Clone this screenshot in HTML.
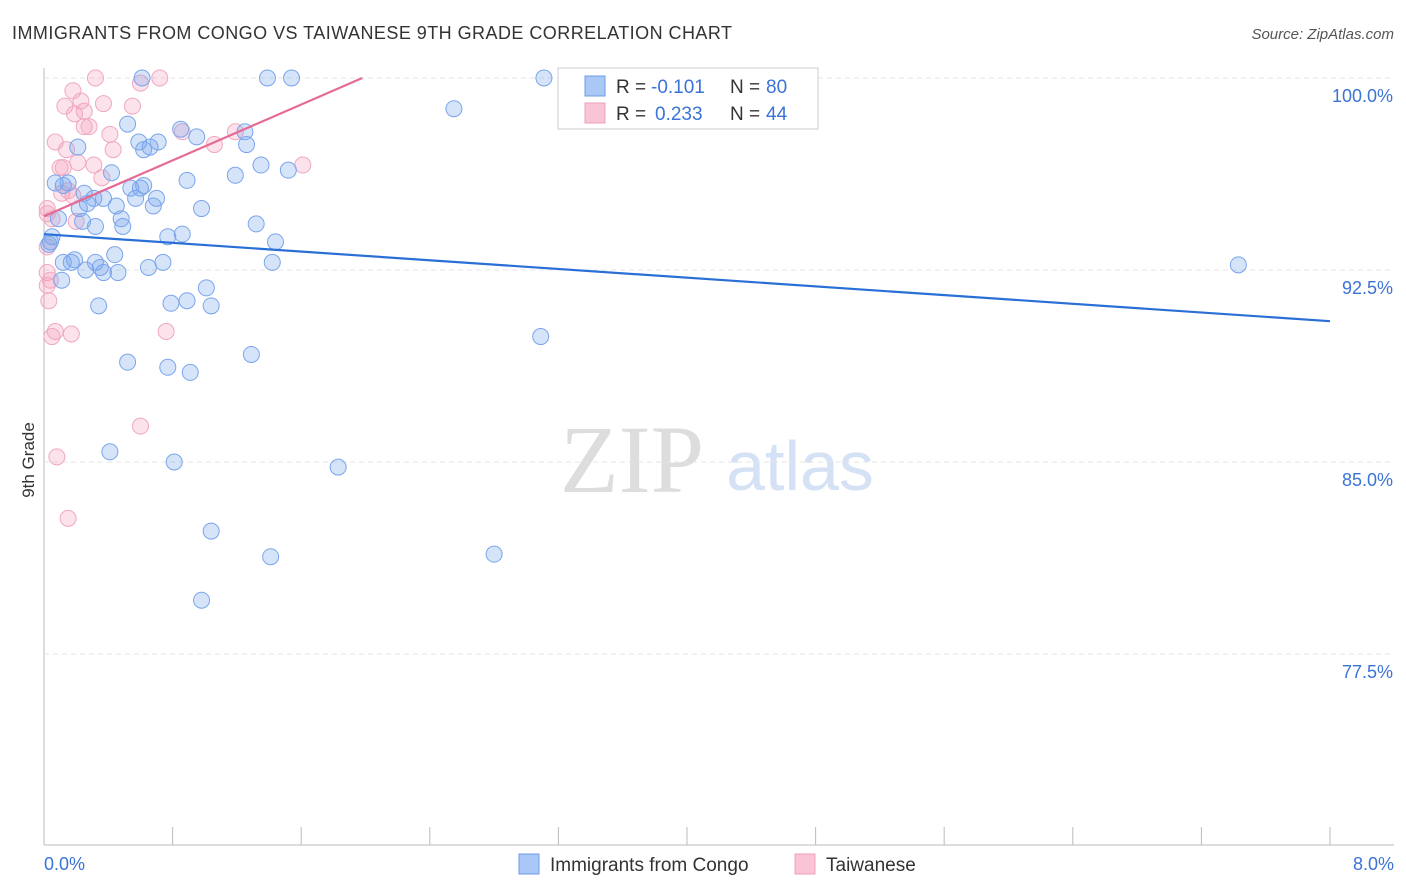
<!DOCTYPE html>
<html><head><meta charset="utf-8"><style>
body{margin:0;background:#fff;font-family:"Liberation Sans",sans-serif;}
svg{display:block}
</style></head><body>
<svg id="c" width="1406" height="892">
<text x="12" y="39" font-size="18" fill="#333" textLength="720">IMMIGRANTS FROM CONGO VS TAIWANESE 9TH GRADE CORRELATION CHART</text>
<text x="1394" y="39" font-size="15" fill="#555" font-style="italic" text-anchor="end">Source: ZipAtlas.com</text>
<text x="34" y="460" font-size="17" fill="#333" text-anchor="middle" transform="rotate(-90 34 460)">9th Grade</text>
<text x="632" y="492" font-size="96" fill="#ddd" font-family="Liberation Serif,serif" text-anchor="middle">ZIP</text>
<text x="800" y="490" font-size="70" fill="#d5e2f5" text-anchor="middle">atlas</text>
<g id="grid"></g><g id="pts"></g><g id="lines"></g>
<g>
<rect x="558" y="68" width="260" height="61" fill="#fff" stroke="#ccc"/>
<rect x="585" y="76" width="20" height="20" fill="#aac8f5" stroke="#6d9be8"/>
<rect x="585" y="103" width="20" height="20" fill="#f9c4d5" stroke="#eea0bb"/>
<text x="616" y="93" font-size="19" fill="#333">R =</text>
<text x="651" y="93" font-size="19" fill="#3b73d6">-0.101</text>
<text x="730" y="93" font-size="19" fill="#333">N =</text>
<text x="766" y="93" font-size="19" fill="#3b73d6">80</text>
<text x="616" y="120" font-size="19" fill="#333">R =</text>
<text x="655" y="120" font-size="19" fill="#3b73d6">0.233</text>
<text x="730" y="120" font-size="19" fill="#333">N =</text>
<text x="766" y="120" font-size="19" fill="#3b73d6">44</text>
</g>
<g>
<rect x="519" y="854" width="20" height="20" fill="#aac8f5" stroke="#6d9be8"/>
<text x="550" y="871" font-size="19" fill="#333">Immigrants from Congo</text>
<rect x="795" y="854" width="20" height="20" fill="#f9c4d5" stroke="#eea0bb"/>
<text x="826" y="871" font-size="19" fill="#333">Taiwanese</text>
</g>
</svg>
<script>
const xTicks=[0,1,2,3,4,5,6,7,8];
const yTicks=[77.5,85,92.5,100];
const blueX=[0.61,1.39,1.54,3.11,2.55,0.52,0.85,1.25,0.95,0.59,0.71,0.66,0.62,1.26,0.21,1.35,1.52,1.19,0.42,0.89,0.07,0.15,0.12,0.54,0.6,0.62,0.25,0.37,0.31,0.57,0.7,0.68,0.45,0.27,0.22,0.98,0.09,0.24,0.48,0.32,0.49,1.32,0.77,0.86,0.05,0.04,0.03,1.44,0.44,0.19,0.32,0.12,0.17,0.35,0.26,0.37,0.46,0.65,0.74,1.42,7.43,0.11,1.01,0.34,0.89,0.79,1.04,3.09,0.52,1.29,0.77,0.91,0.41,0.81,1.83,1.04,1.41,2.8,0.98];
const blueY=[100,100,100,100,98.8,98.2,98,97.9,97.7,97.5,97.5,97.3,97.2,97.4,97.3,96.6,96.4,96.2,96.3,96,95.9,95.9,95.8,95.7,95.7,95.8,95.5,95.3,95.3,95.3,95.3,95,95,95.1,94.9,94.9,94.5,94.4,94.5,94.2,94.2,94.3,93.8,93.9,93.8,93.6,93.5,93.6,93.1,92.9,92.8,92.8,92.8,92.6,92.5,92.4,92.4,92.6,92.8,92.8,92.7,92.1,91.8,91.1,91.3,91.2,91.1,89.9,88.9,89.2,88.7,88.5,85.4,85,84.8,82.3,81.3,81.4,79.6];
const pinkX=[0.32,0.72,0.6,0.18,0.13,0.23,0.37,0.55,0.25,0.19,0.25,0.28,0.41,0.86,1.19,0.07,0.14,0.43,1.06,1.61,0.1,0.12,0.21,0.31,0.36,0.11,0.15,0.18,0.02,0.05,0.2,0.02,0.02,0.04,0.02,0.03,0.07,0.17,0.05,0.76,0.6,0.08,0.15,0.02];
const pinkY=[100,100,99.8,99.5,98.9,99.1,99,98.9,98.7,98.6,98.1,98.1,97.8,97.9,97.9,97.5,97.2,97.2,97.4,96.6,96.5,96.5,96.7,96.6,96.1,95.5,95.6,95.4,94.9,94.5,94.4,93.4,92.4,92.1,91.9,91.3,90.1,90,89.9,90.1,86.4,85.2,82.8,94.7];
const blueLine=[[0,93.9],[8,90.5]];
const pinkLine=[[0,94.6],[1.98,100]];
const X=v=>44+v/8*1286;
const Y=v=>78+(100-v)*25.6;
const NS="http://www.w3.org/2000/svg";
const g=document.getElementById('grid'),p=document.getElementById('pts'),l=document.getElementById('lines');
function mk(tag,at,parent){const e=document.createElementNS(NS,tag);for(const k in at)e.setAttribute(k,at[k]);parent.appendChild(e);return e;}
let ax=mk('line',{x1:44,y1:68,x2:44,y2:845,stroke:'#bbb'},g);


let bx=mk('line',{x1:44,y1:845,x2:1394,y2:845,stroke:'#bbb'},g);


yTicks.forEach(t=>{
 const ln=mk('line',{x1:44,x2:1394,y1:Y(t),y2:Y(t),stroke:'#e4e4e4','stroke-dasharray':'5,4'},g);
 
 
 const tx=mk('text',{x:1393,y:Y(t)+24,'font-size':18,fill:'#3b73d6','text-anchor':'end'},g);
 tx.textContent=t.toFixed(1)+'%';
 
 
});
for(let i=0;i<=10;i++){
 const v=i*0.8;
 const tk=mk('line',{x1:X(v),x2:X(v),y1:827,y2:845,stroke:'#bbb'},g);
 
 
}
[[0,'start',44],[8,'end',1394]].forEach(([v,a,x])=>{
 const tx=mk('text',{x:x,y:870,'font-size':18,fill:'#3b73d6','text-anchor':a},g);
 tx.textContent=v.toFixed(1)+'%';
 
 
});
pinkX.forEach((x,i)=>{
 const c=mk('circle',{cx:X(x),cy:Y(pinkY[i]),r:8,fill:'rgba(244,160,190,0.3)',stroke:'#f0a8c0','stroke-width':1},p);
 
 
});
blueX.forEach((x,i)=>{
 const c=mk('circle',{cx:X(x),cy:Y(blueY[i]),r:8,fill:'rgba(120,165,235,0.3)',stroke:'#7aa5ec','stroke-width':1},p);
 
 
});
const bl=mk('line',{x1:X(blueLine[0][0]),y1:Y(blueLine[0][1]),x2:X(blueLine[1][0]),y2:Y(blueLine[1][1]),stroke:'#2a6fd6','stroke-width':2.2},l);


const pl=mk('line',{x1:X(pinkLine[0][0]),y1:Y(pinkLine[0][1]),x2:X(pinkLine[1][0]),y2:Y(pinkLine[1][1]),stroke:'#e56b96','stroke-width':2.2},l);


</script>
</body></html>
